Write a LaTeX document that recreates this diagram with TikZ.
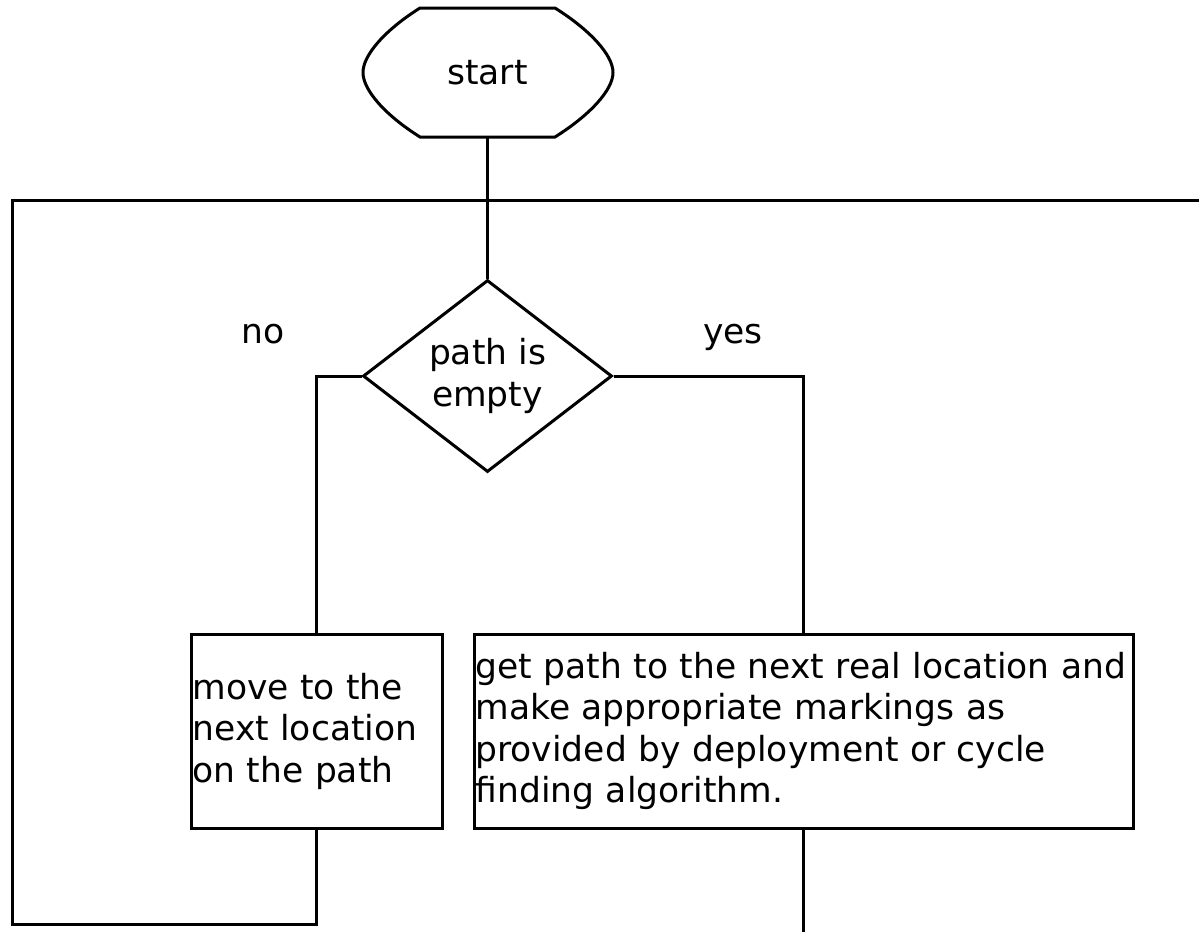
\documentclass[tikz,border=0pt]{standalone}
\usepackage{fontspec}
\setmainfont{DejaVu Sans}
\usetikzlibrary{shapes.geometric}
\begin{document}
\begin{tikzpicture}[x=1pt,y=-1pt,line width=3pt,
  every node/.style={font=\fontsize{34.5}{41.5}\selectfont},
  procbox/.style={draw,rectangle,minimum height=194pt,inner xsep=1.5pt,inner ysep=0pt,align=left},
  decision/.style={draw,diamond,aspect=1.3,minimum width=249pt,minimum height=192pt,inner sep=0pt,align=center},
  lbl/.style={anchor=base}]
\useasboundingbox (0,0) rectangle (1199,932);

% terminal
\node[minimum width=250pt,minimum height=129pt,inner sep=0pt,outer sep=0pt] (start) at (487.5,72.5) {start};
\draw (420,8) -- (555,8)
  .. controls (590,30) and (613,55) .. (613,72.5)
  .. controls (613,90) and (590,115) .. (555,137)
  -- (420,137)
  .. controls (385,115) and (363,90) .. (363,72.5)
  .. controls (363,55) and (385,30) .. (420,8) -- cycle;

% decision and actions
\node[decision] (dec) at (487.5,376) {path is\\empty};
\node[procbox,text width=248pt] (move) at (316.5,731) {move to the\\next location\\on the path};
\node[procbox,text width=656pt] (get) at (803.5,731) {get path to the next real location and\\make appropriate markings as\\provided by deployment or cycle\\finding algorithm.};

% branch labels
\node[lbl] (no) at (263,343) {no};
\node[lbl] (yes) at (733,343) {yes};

\coordinate (loopend) at (1199,200);
\coordinate (exit) at (803.5,932);

% connectors
\draw (start.south) -- (dec.north);
\draw (dec.west) -| (move.north);
\draw (dec.east) -| (get.north);
\draw (move.south) -- ++(0,95) -| (12,200) -- (loopend);
\draw (get.south) -- (exit);
\end{tikzpicture}
\end{document}
